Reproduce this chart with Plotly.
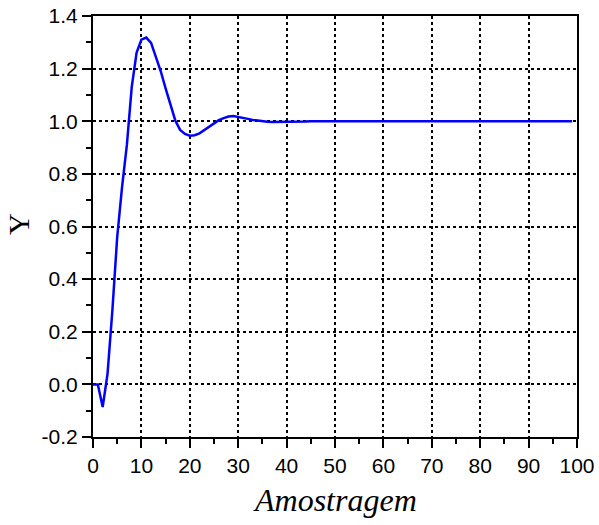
import plotly.graph_objects as go

# Samples (Amostragem) and response values (Y)
samples = list(range(0, 100))
y_values = [
    0.0, 0.0, -0.086, 0.04, 0.28, 0.56, 0.75, 0.91, 1.13, 1.26,
    1.31, 1.318, 1.298, 1.245, 1.19, 1.125, 1.06, 1.003, 0.967, 0.952,
    0.945, 0.947, 0.954, 0.966, 0.979, 0.993, 1.004, 1.012, 1.018, 1.02,
    1.017, 1.013, 1.009, 1.005, 1.002, 1.0, 0.998, 0.997, 0.997, 0.997,
    0.997, 0.997, 0.998, 0.998, 0.999, 1.0, 1.0, 1.0, 1.0, 1.0,
    1.0, 1.0, 1.0, 1.0, 1.0, 1.0, 1.0, 1.0, 1.0, 1.0,
    1.0, 1.0, 1.0, 1.0, 1.0, 1.0, 1.0, 1.0, 1.0, 1.0,
    1.0, 1.0, 1.0, 1.0, 1.0, 1.0, 1.0, 1.0, 1.0, 1.0,
    1.0, 1.0, 1.0, 1.0, 1.0, 1.0, 1.0, 1.0, 1.0, 1.0,
    1.0, 1.0, 1.0, 1.0, 1.0, 1.0, 1.0, 1.0, 1.0, 1.0,
]
x_ticks = [0, 10, 20, 30, 40, 50, 60, 70, 80, 90, 100]
y_ticks = [-0.2, 0.0, 0.2, 0.4, 0.6, 0.8, 1.0, 1.2, 1.4]
y_tick_labels = ["-0.2", "0.0", "0.2", "0.4", "0.6", "0.8", "1.0", "1.2", "1.4"]
x_title = "Amostragem"
y_title = "Y"

fig = go.Figure()
fig.add_trace(go.Scatter(
    x=samples, y=y_values, mode="lines",
    line=dict(color="#0000FF", width=2.5),
    showlegend=False,
))

tick_font = dict(family="Liberation Sans, Arial", size=21, color="black")
axis_common = dict(
    showline=True, linewidth=2, linecolor="black", mirror=True,
    ticks="outside", ticklen=9, tickwidth=2, tickcolor="black",
    showgrid=True, gridcolor="black", gridwidth=2, griddash="dot",
    zeroline=False, tickfont=tick_font, automargin=False,
)

fig.update_xaxes(
    range=[0, 100], tickvals=x_ticks,
    minor=dict(dtick=5, tick0=0, ticks="outside", ticklen=5, tickwidth=2,
               tickcolor="black", showgrid=False),
    **axis_common,
)
fig.update_yaxes(
    range=[-0.2, 1.4], tickvals=y_ticks, ticktext=y_tick_labels,
    minor=dict(dtick=0.1, tick0=0, ticks="outside", ticklen=5, tickwidth=2,
               tickcolor="black", showgrid=False),
    **axis_common,
)

fig.add_annotation(
    text="<i>" + x_title + "</i>", xref="paper", yref="paper",
    x=0.5, y=-0.15, xanchor="center", yanchor="middle", showarrow=False,
    font=dict(family="Liberation Serif, Times New Roman", size=32, color="black"),
)
fig.add_annotation(
    text=y_title, xref="paper", yref="paper", textangle=-90,
    x=-0.153, y=0.506, xanchor="center", yanchor="middle", showarrow=False,
    font=dict(family="Liberation Serif, Times New Roman", size=30, color="black"),
)

fig.update_layout(
    width=599, height=525,
    margin=dict(l=93, r=22, t=16, b=88),
    plot_bgcolor="white", paper_bgcolor="white",
)

fig.write_html("out.html")
